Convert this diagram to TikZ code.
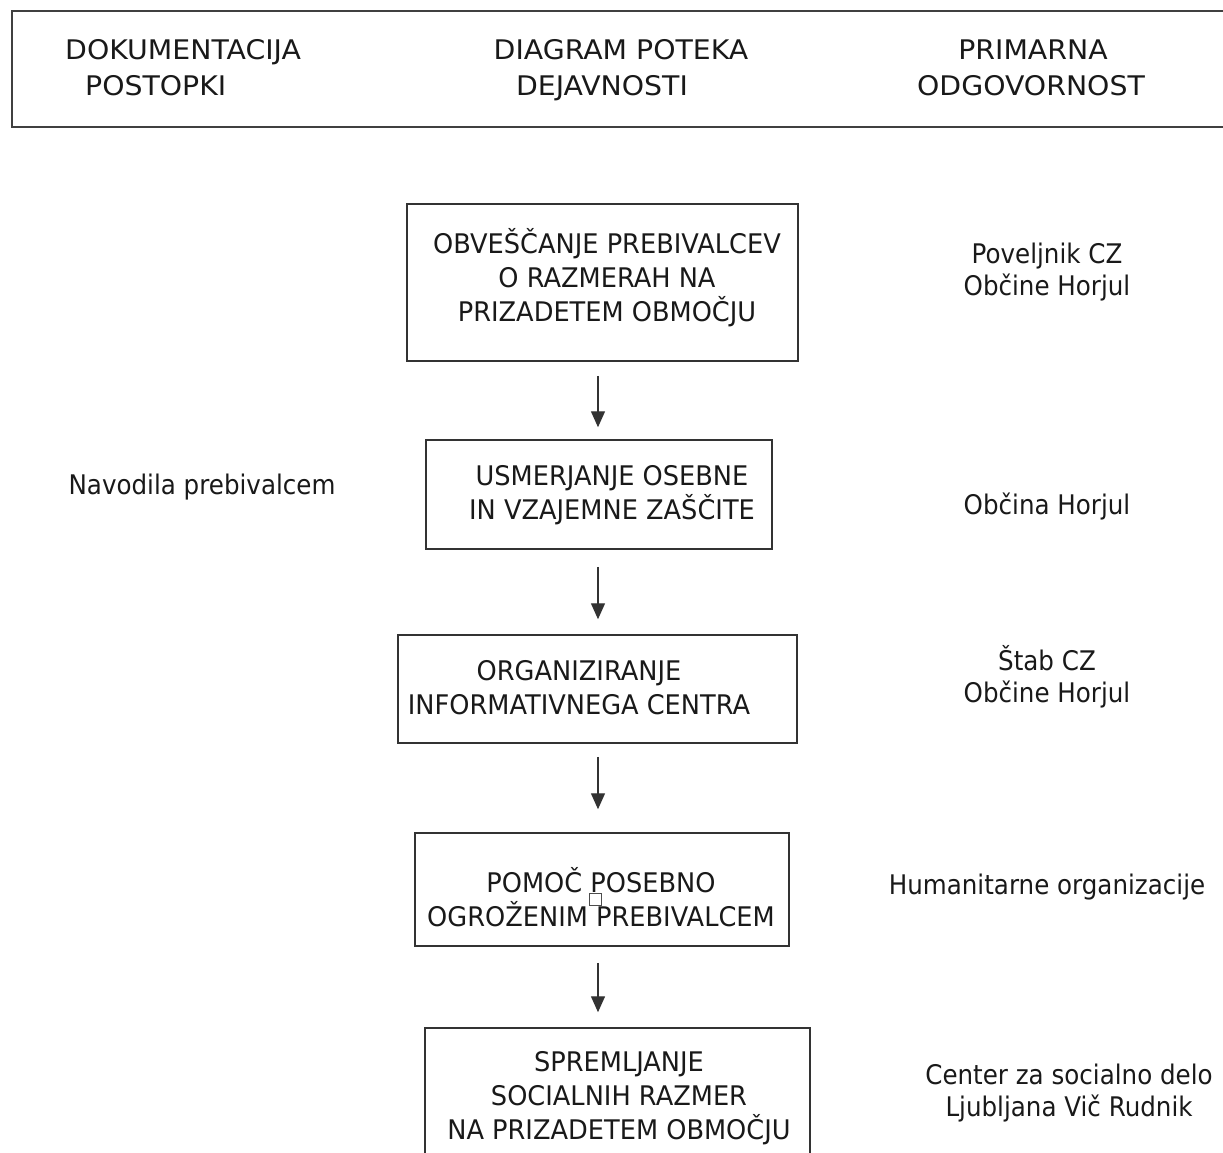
\documentclass[tikz,border=0pt]{standalone}
\usepackage{fontspec}
\setmainfont{DejaVu Sans}[FakeStretch=0.95]
\newfontfamily\headfont{DejaVu Sans}[FakeStretch=1.05]
\newfontfamily\lowfont{DejaVu Sans}[FakeStretch=0.91]
\usetikzlibrary{arrows.meta}
\begin{document}
\begin{tikzpicture}[x=1pt,y=-1pt,
  box/.style={draw=black!80,line width=1.5pt,rectangle,inner sep=0pt},
  txt/.style={inner sep=0pt,align=center,font=\fontsize{27}{34}\selectfont,text=black!90},
  ltxt/.style={inner sep=0pt,align=center,font=\lowfont\fontsize{27}{32}\selectfont,text=black!90},
  htxt/.style={inner sep=0pt,align=center,anchor=base,font=\headfont\fontsize{27}{34}\selectfont,text=black!90},
  arr/.style={draw=black!80,line width=1.4pt,-{Triangle[width=14pt,length=16pt]}}]
\useasboundingbox (0,0) rectangle (1223,1153);
\clip (0,0) rectangle (1223,1153);
% header
\draw[line width=1.6pt,draw=black!75] (12,11) rectangle (1240,127);
\node[htxt,anchor=base west] (h1a) at (65,60) {DOKUMENTACIJA};
\node[htxt,anchor=base west] (h1b) at (85,96) {POSTOPKI};
\node[htxt] (h2a) at (621,60) {DIAGRAM POTEKA};
\node[htxt] (h2b) at (602,96) {DEJAVNOSTI};
\node[htxt] (h3a) at (1033,60) {PRIMARNA};
\node[htxt] (h3b) at (1031,96) {ODGOVORNOST};
% boxes
\node[box,minimum width=391pt,minimum height=157pt] (b1) at (602.5,282.5) {};
\node[box,minimum width=346pt,minimum height=109pt] (b2) at (599,494.5) {};
\node[box,minimum width=399pt,minimum height=108pt] (b3) at (597.5,689) {};
\node[box,minimum width=374pt,minimum height=113pt] (b4) at (602,889.5) {};
\node[box,minimum width=385pt,minimum height=160pt] (b5) at (617.5,1108) {};
% box texts
\node[txt] (t1) at (607,278) {OBVEŠČANJE PREBIVALCEV\\O RAZMERAH NA\\PRIZADETEM OBMOČJU};
\node[txt] (t2) at (612,495) {USMERJANJE OSEBNE\\IN VZAJEMNE ZAŠČITE};
\node[txt] (t3) at (579,688) {ORGANIZIRANJE\\INFORMATIVNEGA CENTRA};
\node[txt] (t4) at (601,897) {POMOČ POSEBNO\\OGROŽENIM PREBIVALCEM};
\node[draw=black!70,line width=0.8pt,minimum width=12pt,minimum height=12pt,inner sep=0pt] (glitch) at (595,899) {};
\node[txt] (t5) at (619,1098) {SPREMLJANJE\\SOCIALNIH RAZMER\\NA PRIZADETEM OBMOČJU};
% arrows
\coordinate (ax) at (598,0);
\draw[arr,shorten <=14pt,shorten >=12pt] (b1.south -| ax) -- (b2.north -| ax);
\draw[arr,shorten <=17pt,shorten >=15pt] (b2.south -| ax) -- (b3.north -| ax);
\draw[arr,shorten <=13pt,shorten >=23pt] (b3.south -| ax) -- (b4.north -| ax);
\draw[arr,shorten <=16pt,shorten >=15pt] (b4.south -| ax) -- (b5.north -| ax);
% left
\node[ltxt] (l2) at (202,487) {Navodila prebivalcem};
% right
\node[ltxt] (r1) at (1047,272) {Poveljnik CZ\\Občine Horjul};
\node[ltxt] (r2) at (1047,507) {Občina Horjul};
\node[ltxt] (r3) at (1047,677) {Štab CZ\\Občine Horjul};
\node[ltxt] (r4) at (1047,887) {Humanitarne organizacije};
\node[ltxt] (r5) at (1069,1093) {Center za socialno delo\\Ljubljana Vič Rudnik};
\end{tikzpicture}
\end{document}
